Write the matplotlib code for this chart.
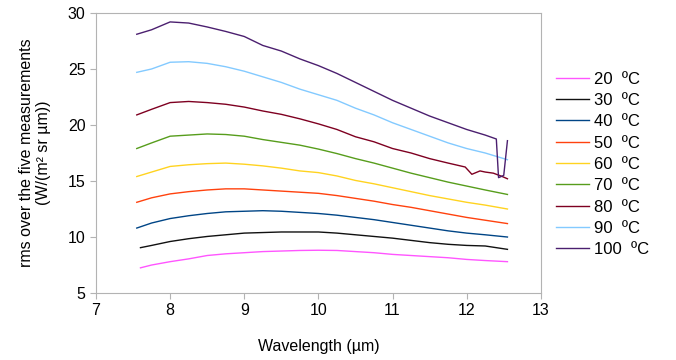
import matplotlib.pyplot as plt

plt.rcParams['font.family'] = ['Liberation Sans', 'DejaVu Sans']

# wavelength grid (um)
wl = [7.55, 7.75, 8.0, 8.25, 8.5, 8.75, 9.0, 9.25, 9.5, 9.75, 10.0,
      10.25, 10.5, 10.75, 11.0, 11.25, 11.5, 11.75, 12.0, 12.25, 12.55]
wl_low = [7.6] + wl[1:]
wl_80 = [7.55, 7.75, 8.0, 8.25, 8.5, 8.75, 9.0, 9.25, 9.5, 9.75, 10.0,
         10.25, 10.5, 10.75, 11.0, 11.25, 11.5, 11.75, 11.98, 12.07, 12.18,
         12.25, 12.36, 12.48, 12.55]
wl_100 = [7.55, 7.75, 8.0, 8.25, 8.5, 8.75, 9.0, 9.25, 9.5, 9.75, 10.0,
          10.25, 10.5, 10.75, 11.0, 11.25, 11.5, 11.75, 12.0, 12.25, 12.4,
          12.43, 12.5, 12.55]

r20 = [7.25, 7.5, 7.8, 8.05, 8.35, 8.5, 8.6, 8.7, 8.75, 8.8, 8.82,
       8.8, 8.7, 8.6, 8.45, 8.35, 8.25, 8.15, 8.0, 7.9, 7.8]
r30 = [9.05, 9.25, 9.6, 9.85, 10.05, 10.2, 10.35, 10.4, 10.45, 10.45, 10.45,
       10.35, 10.2, 10.05, 9.9, 9.7, 9.5, 9.35, 9.25, 9.2, 8.9]
r40 = [10.8, 11.25, 11.65, 11.9, 12.1, 12.25, 12.3, 12.35, 12.3, 12.2, 12.1,
       11.95, 11.75, 11.55, 11.3, 11.05, 10.8, 10.55, 10.35, 10.2, 10.0]
r50 = [13.1, 13.5, 13.85, 14.05, 14.2, 14.3, 14.3, 14.2, 14.1, 14.0, 13.9,
       13.7, 13.45, 13.2, 12.9, 12.65, 12.35, 12.05, 11.75, 11.5, 11.2]
r60 = [15.4, 15.8, 16.3, 16.45, 16.55, 16.6, 16.5, 16.35, 16.15, 15.9, 15.75,
       15.45, 15.05, 14.75, 14.4, 14.05, 13.7, 13.4, 13.1, 12.85, 12.5]
r70 = [17.9, 18.4, 19.0, 19.1, 19.2, 19.15, 19.0, 18.7, 18.45, 18.2, 17.85,
       17.45, 17.0, 16.6, 16.15, 15.7, 15.3, 14.9, 14.55, 14.2, 13.8]
r80 = [20.9, 21.4, 22.0, 22.1, 22.0, 21.85, 21.6, 21.25, 20.95, 20.55, 20.1,
       19.6, 18.95, 18.5, 17.9, 17.5, 17.0, 16.6, 16.25, 15.6, 15.9,
       15.8, 15.7, 15.4, 15.2]
r90 = [24.7, 25.0, 25.6, 25.65, 25.5, 25.2, 24.8, 24.3, 23.8, 23.2, 22.7,
       22.2, 21.5, 20.9, 20.2, 19.6, 19.0, 18.4, 17.9, 17.5, 16.9]
r100 = [28.1, 28.5, 29.2, 29.1, 28.75, 28.35, 27.9, 27.1, 26.6, 25.9, 25.3,
        24.6, 23.8, 23.0, 22.2, 21.5, 20.8, 20.2, 19.6, 19.1, 18.75,
        15.3, 15.5, 18.6]

labels = ["20  ºC", "30  ºC", "40  ºC", "50  ºC", "60  ºC",
          "70  ºC", "80  ºC", "90  ºC", "100  ºC"]
colors = ["#ff55ff", "#111111", "#004586", "#ff420e", "#ffd320",
          "#579d1c", "#7e0021", "#83caff", "#4b1f6f"]

series = [(wl_low, r20), (wl_low, r30), (wl, r40), (wl, r50), (wl, r60),
          (wl, r70), (wl_80, r80), (wl, r90), (wl_100, r100)]

fig = plt.figure(figsize=(6.76, 3.6), dpi=100)
ax = fig.add_axes([0.142, 0.186, 0.658, 0.778])

for (x, y), lab, c in zip(series, labels, colors):
    ax.plot(x, y, color=c, lw=1.0, label=lab)

ax.set_xlim(7, 13)
ax.set_ylim(5, 30)
ax.set_xticks(range(7, 14))
ax.set_yticks(range(5, 31, 5))
for s in ax.spines.values():
    s.set_color("#b3b3b3")
ax.tick_params(colors="#b3b3b3", labelcolor="black", labelsize=11.5,
               length=4, direction="out")
ax.set_xlabel("Wavelength (µm)", fontsize=11.5, labelpad=15)
ax.set_ylabel("rms over the five measurements\n(W/(m² sr µm))",
              fontsize=11.5, labelpad=12)

fig.legend(loc="upper left", bbox_to_anchor=(0.80, 0.843), frameon=False,
           fontsize=12, handlelength=2.0, labelspacing=0.38,
           handletextpad=0.3)

fig.savefig("out.png", dpi=100)
